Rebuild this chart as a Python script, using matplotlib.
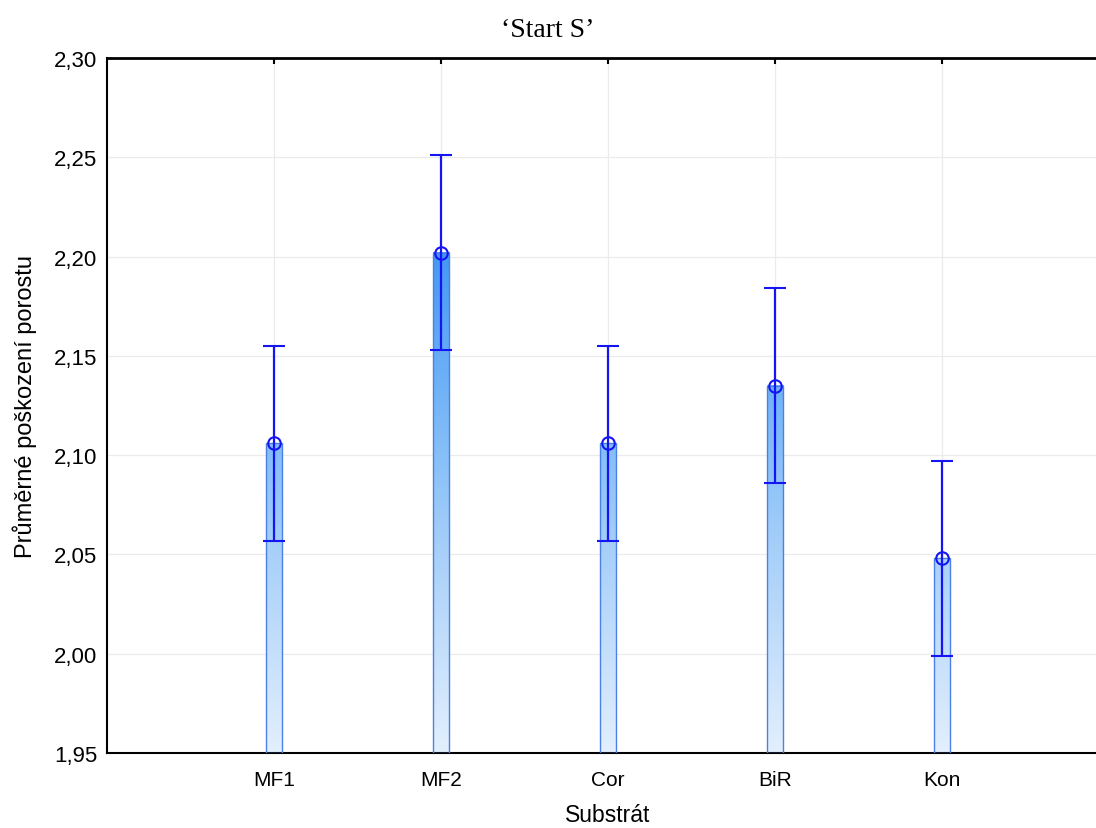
import numpy as np
import matplotlib
matplotlib.use("Agg")
import matplotlib.pyplot as plt
from matplotlib.colors import LinearSegmentedColormap, Normalize
from matplotlib.patches import Rectangle

categories = ["MF1", "MF2", "Cor", "BiR", "Kon"]
means = [2.106, 2.202, 2.106, 2.135, 2.048]
errors = [0.049, 0.049, 0.049, 0.049, 0.049]
yticks = [1.95, 2.00, 2.05, 2.10, 2.15, 2.20, 2.25, 2.30]
ytick_labels = ["1,95", "2,00", "2,05", "2,10", "2,15", "2,20", "2,25", "2,30"]

ymin, ymax = 1.95, 2.30
bar_w = 0.1
blue = "#1414f5"

cmap = LinearSegmentedColormap.from_list(
    "bars",
    [(0.0, "#e2effd"), (0.286, "#a8d0f9"), (0.43, "#86bff8"),
     (0.714, "#4599f4"), (1.0, "#2a84ef")])
norm = Normalize(ymin, ymax)

fig = plt.figure(figsize=(10.96, 8.29), dpi=100)
ax = fig.add_axes([107 / 1096, 75 / 829, 1002 / 1096, 695 / 829])

x = np.arange(1, len(categories) + 1)

for xi, m in zip(x, means):
    grad = np.linspace(ymin, m, 256).reshape(-1, 1)
    ax.imshow(grad, cmap=cmap, norm=norm, origin="lower", aspect="auto",
              extent=[xi - bar_w / 2, xi + bar_w / 2, ymin, m], zorder=2,
              interpolation="bilinear")
    ax.add_patch(Rectangle((xi - bar_w / 2, ymin), bar_w, m - ymin,
                           facecolor="none", edgecolor="#4d80e4", lw=1.0, zorder=3))

ax.errorbar(x, means, yerr=errors, fmt="o", mfc="none", mec=blue, ms=9, mew=1.5,
            ecolor=blue, elinewidth=1.6, capsize=8, capthick=1.6, zorder=4)

ax.set_xlim(0, 6)
ax.set_ylim(ymin, ymax)
ax.set_xticks(x)
ax.set_xticklabels(categories, fontsize=15, family="Liberation Sans")
ax.set_yticks(yticks)
ax.set_yticklabels(ytick_labels, fontsize=16, family="Liberation Sans")
ax.tick_params(axis="x", direction="in", top=True, length=4, width=1.5, pad=12)
ax.tick_params(axis="y", length=0, pad=7)
ax.grid(True, color="#ebebeb", lw=0.9, zorder=0)
ax.set_axisbelow(True)

ax.spines["right"].set_visible(False)
ax.spines["top"].set_linewidth(2)
ax.spines["left"].set_linewidth(1.5)
ax.spines["bottom"].set_linewidth(1.5)

ax.set_xlabel("Substrát", fontsize=16.5, family="Liberation Sans", labelpad=10)
ax.set_ylabel("Průměrné poškození porostu", fontsize=17, family="Liberation Sans", labelpad=12)
fig.text(0.5, 0.963, "\u2018Start S\u2019", ha="center", va="center",
         fontsize=20, family="Liberation Serif")

fig.savefig("out.png", dpi=100)
